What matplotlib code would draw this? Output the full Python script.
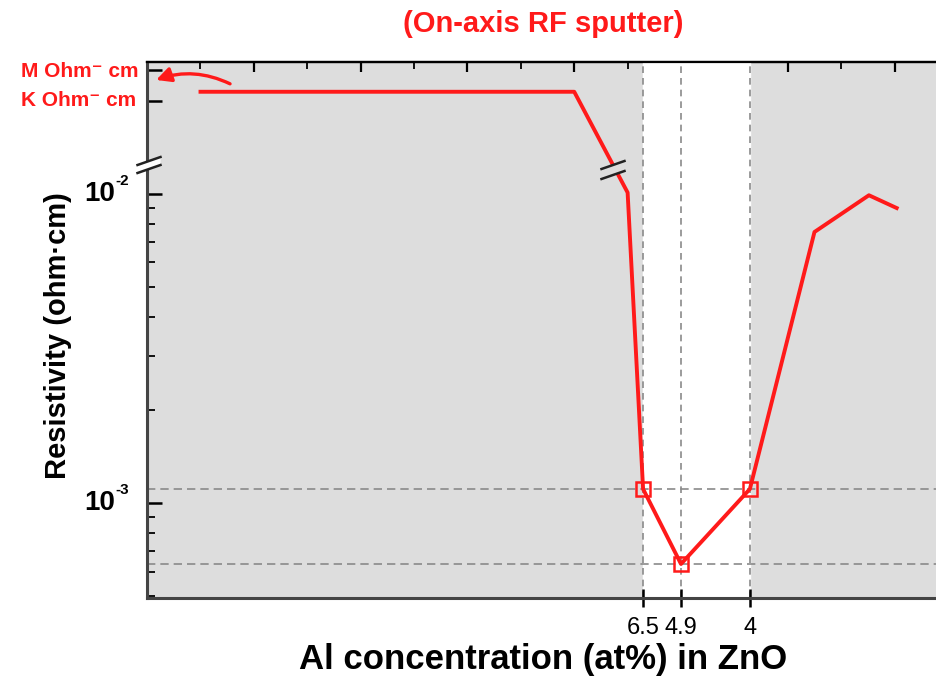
import numpy as np
import matplotlib.pyplot as plt
import matplotlib.transforms as mtransforms
from matplotlib.ticker import FixedLocator, NullFormatter

plt.rcParams['font.family'] = ['Liberation Sans', 'DejaVu Sans']

# posicion en el eje (unidades de las marcas superiores) y resistividad
x_pos = [1.0, 8.0, 9.0, 9.29, 10.0, 11.29, 12.5, 13.52, 14.04]
rho = [0.0214, 0.0214, 0.0101, 1.11e-3, 6.35e-4, 1.11e-3, 7.53e-3, 9.9e-3, 9.0e-3]
marcas = [3, 4, 5]

x_ticks = [9.29, 10.0, 11.29]
x_labels = ['6.5', '4.9', '4']
y_ticks = [1e-3, 1e-2]
y_exp = ['-3', '-2']
rho_ref = [1.11e-3, 6.35e-4]

fig = plt.figure(figsize=(9.37, 6.76), dpi=100)
ax = fig.add_axes([0.157, 0.1154, 0.845, 0.7928])
ax.set_facecolor('#dddddd')
ax.set_yscale('log')
ax.set_xlim(0, 14.83)
ax.set_ylim(4.93e-4, 0.0267)

# banda blanca entre 6.5 y 4 at%
ax.axvspan(x_ticks[0], x_ticks[-1], color='white', zorder=0.5)
for xv in x_ticks:
    ax.axvline(xv, color='#8a8a8a', ls=(0, (4, 3)), lw=1.2, zorder=1)
for yv in rho_ref:
    ax.axhline(yv, color='#8a8a8a', ls=(0, (5, 3)), lw=1.2, zorder=1)

ax.plot(x_pos, rho, color='#ff1a1a', lw=2.8, zorder=3)
ax.plot([x_pos[i] for i in marcas], [rho[i] for i in marcas], ls='none',
        marker='s', ms=10, mfc='none', mec='#ff1a1a', mew=1.8, zorder=4)

# ejes
for s in ['left', 'bottom']:
    ax.spines[s].set_linewidth(2.2)
    ax.spines[s].set_color('#444444')
ax.spines['top'].set_linewidth(1.6)
ax.spines['right'].set_visible(False)

ax.set_xticks(x_ticks)
ax.set_xticklabels(x_labels, fontsize=17)
ax.tick_params(axis='x', direction='inout', length=13, width=1.8, pad=7)

ax.yaxis.set_major_locator(FixedLocator(y_ticks + [0.02, 0.0252]))
ax.yaxis.set_major_formatter(NullFormatter())
menores = [k * 10.0 ** e for e in (-4, -3) for k in range(2, 10) if 4.9e-4 < k * 10.0 ** e < 1e-2]
ax.yaxis.set_minor_locator(FixedLocator(menores))
ax.yaxis.set_minor_formatter(NullFormatter())
ax.tick_params(axis='y', which='major', direction='in', length=11, width=1.8)
ax.tick_params(axis='y', which='minor', direction='in', length=6, width=1.3)

# etiquetas 10^n con exponente pequeño
trans = mtransforms.blended_transform_factory(ax.transAxes, ax.transData)
for yv, ex in zip(y_ticks, y_exp):
    ax.text(-0.04, yv, '10', transform=trans, ha='right', va='center',
            fontsize=20, fontweight='bold')
    t_exp = mtransforms.offset_copy(trans, fig=fig, x=0, y=4, units='points')
    ax.text(-0.04, yv, ex, transform=t_exp, ha='left', va='bottom',
            fontsize=11, fontweight='bold')

# marcas superiores
ax2 = ax.secondary_xaxis('top')
ax2.set_xticks(np.arange(2, 15, 2))
ax2.set_xticks(np.arange(1, 15, 2), minor=True)
ax2.set_xticklabels([])
ax2.tick_params(direction='in', length=7, width=1.6)
ax2.tick_params(which='minor', direction='in', length=5, width=1.3)
ax2.spines['top'].set_linewidth(1.6)

ax.set_xlabel('Al concentration (at%) in ZnO', fontsize=25, fontweight='bold', labelpad=3)
ax.set_ylabel('Resistivity (ohm·cm)', fontsize=21, fontweight='bold')
ax.yaxis.set_label_coords(-0.095, 0.49)

fig.text(0.58, 0.965, '(On-axis RF sputter)', color='#ff1a1a', fontsize=21,
         fontweight='bold', ha='center', va='center')
fig.text(0.022, 0.894, 'M Ohm\u207b cm', color='#ff1a1a', fontsize=15, fontweight='bold',
         va='center')
fig.text(0.022, 0.851, 'K Ohm\u207b cm', color='#ff1a1a', fontsize=15, fontweight='bold',
         va='center')

# flecha curva
ax.annotate('', xy=(0.12, 0.0232), xytext=(1.6, 0.0225),
            arrowprops=dict(arrowstyle='-|>', color='#ff1a1a', lw=2.4,
                            mutation_scale=22, connectionstyle='arc3,rad=0.22'),
            annotation_clip=False, zorder=5)

# marcas de corte en el eje y en la curva
def corte(x0, y0, gap, fondo):
    w, h = 23, 8
    pts_a = [(x0 - w / 2, y0 + h / 2), (x0 + w / 2, y0 - h / 2)]
    pts_b = [(x0 - w / 2, y0 + h / 2 + gap), (x0 + w / 2, y0 - h / 2 + gap)]
    poly = [pts_a[0], pts_a[1], pts_b[1], pts_b[0]]
    fig.patches.append(plt.Polygon([(px / 937, 1 - py / 676) for px, py in poly],
                                   closed=True, transform=fig.transFigure,
                                   facecolor=fondo, edgecolor='none', zorder=6))
    for p in (pts_a, pts_b):
        fig.add_artist(plt.Line2D([p[0][0] / 937, p[1][0] / 937],
                                  [1 - p[0][1] / 676, 1 - p[1][1] / 676],
                                  color='#222222', lw=1.8, zorder=7))

corte(149, 161, 8, 'white')
corte(613, 165, 10, '#dddddd')

fig.savefig('out.png', dpi=100)
